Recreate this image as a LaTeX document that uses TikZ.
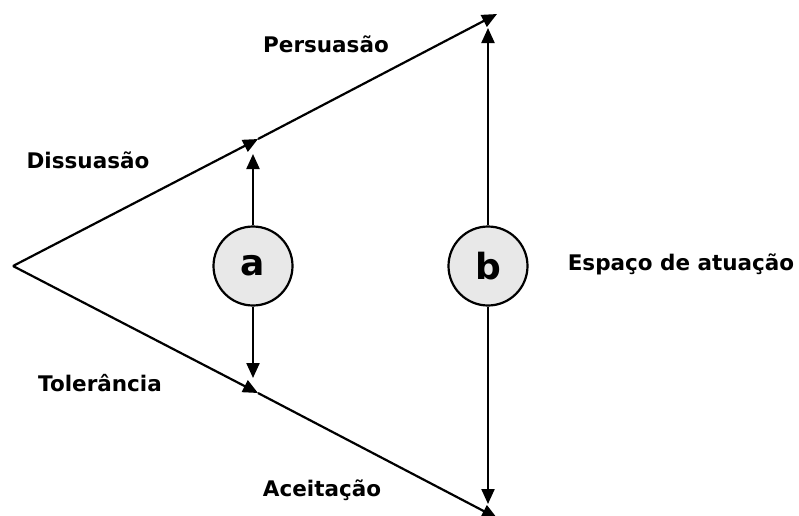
\documentclass[tikz,border=0pt]{standalone}
\usepackage{fontspec}
\setmainfont{DejaVu Sans}
\usetikzlibrary{arrows.meta,positioning}

\begin{document}
\begin{tikzpicture}[x = 1pt, y = -1pt, line width = 2.2pt, >={Triangle[length=15pt,width=13pt]}, font=\bfseries\fontsize{21.5}{24}\selectfont]
\useasboundingbox (0,0) rectangle (799,515);
\coordinate (apex) at (13,266);
\coordinate (midup) at (258,139);
\coordinate (endup) at (497,14);
\coordinate (middown) at (258,393);
\coordinate (enddown) at (497,518);
\draw[->] (apex) -- (midup);
\draw[->] (midup) -- (endup);
\draw[->] (apex) -- (middown);
\draw[->] (middown) -- (enddown);
\node[circle, draw, fill = black!9, minimum size = 79pt, inner sep = 0pt, font=\bfseries\fontsize{36}{38}\selectfont] (a) at (253,266) {a};
\node[circle, draw, fill = black!9, minimum size = 79pt, inner sep = 0pt, font=\bfseries\fontsize{36}{38}\selectfont] (b) at (488,266) {b};
\coordinate (atop) at (253,154);
\coordinate (abot) at (253,378);
\coordinate (btop) at (488,28);
\coordinate (bbot) at (488,504);
\draw[->] (a) -- (atop);
\draw[->] (a) -- (abot);
\draw[->] (b) -- (btop);
\draw[->] (b) -- (bbot);
\node (persuasao) at (326,44) {Persuasão};
\node (dissuasao) at (88,160) {Dissuasão};
\node (tolerancia) at (100,383) {Tolerância};
\node (aceitacao) at (322,490) {Aceitação};
\node (espaco) at (681,264) {Espaço de atuação};
\end{tikzpicture}
\end{document}
